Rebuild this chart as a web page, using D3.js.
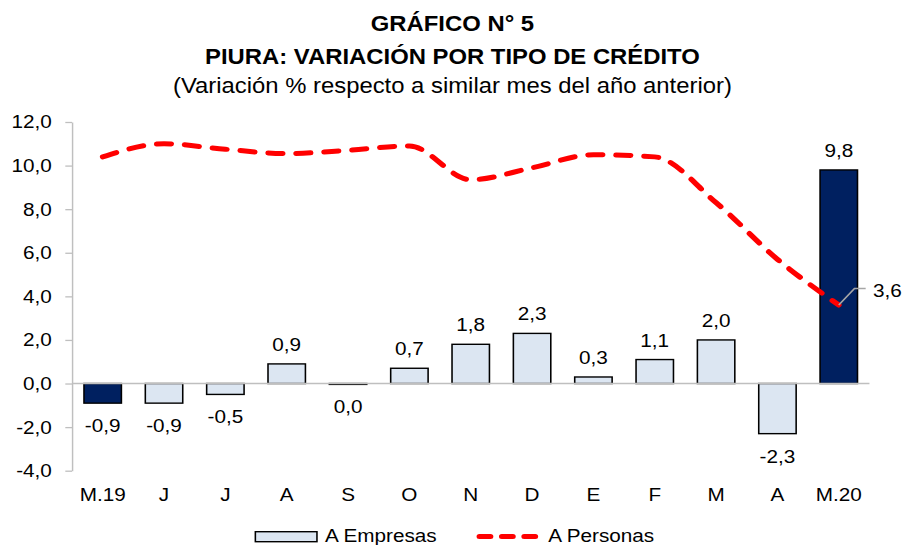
<!DOCTYPE html>
<html>
<head>
<meta charset="utf-8">
<script src="https://cdn.jsdelivr.net/npm/d3@7"></script>
<style>
  body { margin: 0; background: #fff; }
  text { font-family: "Liberation Sans", Arial, sans-serif; fill: #000; }
</style>
</head>
<body>
<div id="chart-container"></div>
<script>
// Data
const months = ['M.19', 'J', 'J', 'A', 'S', 'O', 'N', 'D', 'E', 'F', 'M', 'A', 'M.20'];
const empresas = [-0.9, -0.9, -0.5, 0.9, -0.04, 0.7, 1.8, 2.3, 0.3, 1.1, 2.0, -2.3, 9.8];
const personas = [10.4, 11.0, 10.75, 10.55, 10.7, 10.9, 9.35, 9.9, 10.5, 10.4, 8.3, 5.7, 3.6];
const highlighted = [0, 12]; // bars drawn in dark blue
const yTicks = [-4, -2, 0, 2, 4, 6, 8, 10, 12];
const titleLines = ['GRÁFICO N° 5', 'PIURA: VARIACIÓN POR TIPO DE CRÉDITO'];
const subtitle = '(Variación % respecto a similar mes del año anterior)';
const seriesNames = ['A Empresas', 'A Personas'];

// Colours
const barLight = '#DCE6F2';
const barDark = '#002060';
const lineColor = '#FF0000';
const axisColor = '#BFBFBF';

const width = 906;
const height = 545;
const sx = 1.12; // the original chart is slightly stretched horizontally

// one decimal, comma separator, plain hyphen for negatives
const fmt = (v) => {
  let s = Math.abs(v).toFixed(1);
  if (v < 0 && s !== '0.0') s = '-' + s;
  return s.replace('.', ',');
};

const svg = d3
  .create('svg')
  .attr('width', width)
  .attr('height', height)
  .attr('viewBox', [0, 0, width, height]);

const g = svg.append('g').attr('transform', `scale(${sx},1)`);

const x = d3
  .scaleBand()
  .domain(d3.range(months.length))
  .range([64.3, 776.3])
  .paddingInner(0.39)
  .paddingOuter(0.195);

const y = d3.scaleLinear().domain([-4, 12]).range([470.7, 122]);

// titles
const cx = width / sx / 2 - 0.5;
g.append('text')
  .attr('x', cx)
  .attr('y', 31)
  .attr('text-anchor', 'middle')
  .attr('font-weight', 'bold')
  .attr('font-size', 21.3)
  .text(titleLines[0]);
g.append('text')
  .attr('x', cx)
  .attr('y', 64.3)
  .attr('text-anchor', 'middle')
  .attr('font-weight', 'bold')
  .attr('font-size', 21.3)
  .text(titleLines[1]);
g.append('text')
  .attr('x', cx)
  .attr('y', 92.7)
  .attr('text-anchor', 'middle')
  .attr('font-size', 21.3)
  .text(subtitle);

// y axis
const yAxis = g
  .append('g')
  .attr('transform', `translate(${x.range()[0]},0)`)
  .call(
    d3
      .axisLeft(y)
      .tickValues(yTicks)
      .tickSize(6)
      .tickSizeOuter(0)
      .tickPadding(12)
      .tickFormat(fmt),
  );
yAxis.select('.domain').attr('stroke', axisColor).attr('stroke-width', 1.3);
yAxis.selectAll('.tick line').attr('stroke', axisColor).attr('stroke-width', 1.3);
yAxis
  .selectAll('.tick text')
  .attr('font-size', 18.5)
  .attr('font-family', '"Liberation Sans", Arial, sans-serif')
  .attr('fill', '#000');

// bars
g.append('g')
  .selectAll('rect')
  .data(empresas)
  .join('rect')
  .attr('x', (d, i) => x(i))
  .attr('width', x.bandwidth())
  .attr('y', (d) => y(Math.max(0, d)))
  .attr('height', (d) => Math.abs(y(d) - y(0)))
  .attr('fill', (d, i) => (highlighted.includes(i) ? barDark : barLight))
  .attr('stroke', '#000')
  .attr('stroke-width', 1.4);

// zero line
g.append('line')
  .attr('x1', x.range()[0])
  .attr('x2', x.range()[1])
  .attr('y1', y(0))
  .attr('y2', y(0))
  .attr('stroke', axisColor)
  .attr('stroke-width', 1.5);

// bar labels
g.append('g')
  .selectAll('text')
  .data(empresas)
  .join('text')
  .attr('x', (d, i) => x(i) + x.bandwidth() / 2)
  .attr('y', (d) => (d >= 0 ? y(d) - 13 : y(d) + 29))
  .attr('text-anchor', 'middle')
  .attr('font-size', 18.5)
  .text(fmt);

// category labels
g.append('g')
  .selectAll('text')
  .data(months)
  .join('text')
  .attr('x', (d, i) => x(i) + x.bandwidth() / 2)
  .attr('y', 500.7)
  .attr('text-anchor', 'middle')
  .attr('font-size', 18.5)
  .text((d) => d);

// personas line
const line = d3
  .line()
  .x((d, i) => x(i) + x.bandwidth() / 2)
  .y((d) => y(d))
  .curve(d3.curveMonotoneX);

g.append('path')
  .datum(personas)
  .attr('d', line)
  .attr('fill', 'none')
  .attr('stroke', lineColor)
  .attr('stroke-width', 5)
  .attr('stroke-linecap', 'round')
  .attr('stroke-dasharray', '13 12');

// label for last point with leader line
const last = personas.length - 1;
const px = x(last) + x.bandwidth() / 2;
const py = y(personas[last]);
g.append('path')
  .attr('d', `M${px},${py} L${px + 14},${py - 16.5} L${px + 24},${py - 16.5}`)
  .attr('fill', 'none')
  .attr('stroke', '#A6A6A6')
  .attr('stroke-width', 1.5);
g.append('text')
  .attr('x', px + 30.5)
  .attr('y', py - 8.5)
  .attr('font-size', 18.5)
  .text(fmt(personas[last]));

// legend
const legend = g.append('g');
legend
  .append('rect')
  .attr('x', 228)
  .attr('y', 531.7)
  .attr('width', 55)
  .attr('height', 10)
  .attr('fill', barLight)
  .attr('stroke', '#000')
  .attr('stroke-width', 1.4);
legend
  .append('text')
  .attr('x', 290.2)
  .attr('y', 542.5)
  .attr('font-size', 18.5)
  .text(seriesNames[0]);
legend
  .append('line')
  .attr('x1', 428)
  .attr('x2', 481)
  .attr('y1', 536.5)
  .attr('y2', 536.5)
  .attr('stroke', lineColor)
  .attr('stroke-width', 5)
  .attr('stroke-linecap', 'round')
  .attr('stroke-dasharray', '10 10');
legend
  .append('text')
  .attr('x', 489.6)
  .attr('y', 542.5)
  .attr('font-size', 18.5)
  .text(seriesNames[1]);

document.getElementById('chart-container').appendChild(svg.node());
</script>
</body>
</html>
